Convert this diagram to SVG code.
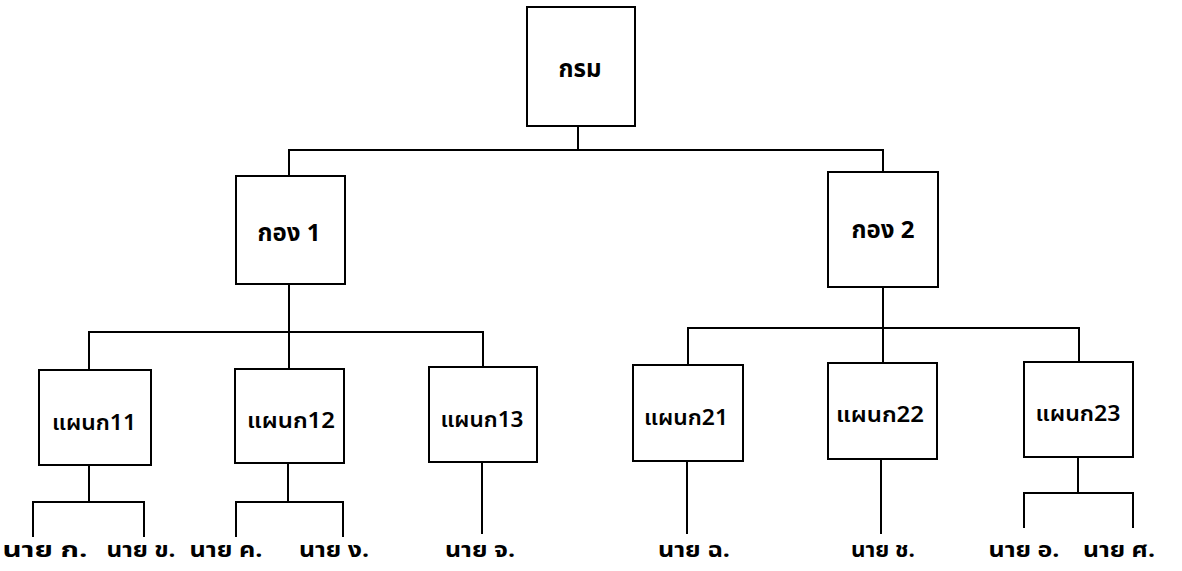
<svg xmlns="http://www.w3.org/2000/svg" width="1182" height="571" viewBox="0 0 1182 571">
  <style>
    .box { fill: #ffffff; stroke: #000000; stroke-width: 2; }
    .wire { fill: none; stroke: #000000; stroke-width: 2; stroke-linecap: square; }
    .lbl { font-family: 'Noto Sans Thai', 'Noto Sans', 'DejaVu Sans', sans-serif; font-weight: bold; fill: #000000; text-anchor: middle; }
    .top { font-size: 24px; }
    .mid { font-size: 24px; }
    .unit { font-size: 22px; font-weight: 600; }
    .person { font-size: 21px; }
  </style>
  <rect width="1182" height="571" fill="#ffffff"/>

  <!-- connectors -->
  <g id="connectors" class="wire">
    <!-- department to divisions -->
    <path d="M578 126 V150 M289 150 H883 M289 150 V176 M883 150 V172"/>
    <!-- division 1 to its sections -->
    <path d="M289 284 V332 M89 332 H483 M89 332 V370 M289 332 V369 M483 332 V367"/>
    <!-- division 2 to its sections -->
    <path d="M883 287 V328 M688 328 H1079 M688 328 V365 M883 328 V363 M1079 328 V362"/>
    <!-- sections to staff -->
    <path d="M89 465 V502 M33 502 H144 M33 502 V536 M144 502 V536"/>
    <path d="M288 463 V502 M236 502 H343 M236 502 V536 M343 502 V536"/>
    <path d="M482 462 V533"/>
    <path d="M687 461 V533"/>
    <path d="M881 459 V533"/>
    <path d="M1078 457 V493 M1024 493 H1133 M1024 493 V527 M1133 493 V527"/>
  </g>

  <!-- department -->
  <g id="krom">
    <rect class="box" x="527" y="7" width="108" height="119"/>
    <text class="lbl top" x="580" y="77">กรม</text>
  </g>

  <!-- divisions -->
  <g id="kong1">
    <rect class="box" x="236" y="176" width="109" height="108"/>
    <text class="lbl mid" x="289" y="241">กอง 1</text>
  </g>
  <g id="kong2">
    <rect class="box" x="828" y="172" width="110" height="115"/>
    <text class="lbl mid" x="883" y="238">กอง 2</text>
  </g>

  <!-- sections -->
  <g id="section11">
    <rect class="box" x="39" y="370" width="112" height="95"/>
    <text class="lbl unit" x="94" y="430" textLength="84" lengthAdjust="spacingAndGlyphs">แผนก11</text>
  </g>
  <g id="section12">
    <rect class="box" x="235" y="369" width="109" height="94"/>
    <text class="lbl unit" x="291" y="428" textLength="88" lengthAdjust="spacingAndGlyphs">แผนก12</text>
  </g>
  <g id="section13">
    <rect class="box" x="429" y="367" width="108" height="95"/>
    <text class="lbl unit" x="482" y="427" textLength="83" lengthAdjust="spacingAndGlyphs">แผนก13</text>
  </g>
  <g id="section21">
    <rect class="box" x="633" y="365" width="110" height="96"/>
    <text class="lbl unit" x="686" y="425" textLength="84" lengthAdjust="spacingAndGlyphs">แผนก21</text>
  </g>
  <g id="section22">
    <rect class="box" x="828" y="363" width="109" height="96"/>
    <text class="lbl unit" x="880" y="422" textLength="88" lengthAdjust="spacingAndGlyphs">แผนก22</text>
  </g>
  <g id="section23">
    <rect class="box" x="1024" y="362" width="109" height="95"/>
    <text class="lbl unit" x="1078" y="421" textLength="85" lengthAdjust="spacingAndGlyphs">แผนก23</text>
  </g>

  <!-- staff -->
  <g id="staff">
    <text class="lbl person" x="45" y="557" textLength="85" lengthAdjust="spacingAndGlyphs">นาย ก.</text>
    <text class="lbl person" x="141" y="557" textLength="69" lengthAdjust="spacingAndGlyphs">นาย ข.</text>
    <text class="lbl person" x="226" y="557" textLength="73" lengthAdjust="spacingAndGlyphs">นาย ค.</text>
    <text class="lbl person" x="334" y="557" textLength="70" lengthAdjust="spacingAndGlyphs">นาย ง.</text>
    <text class="lbl person" x="480" y="557" textLength="70" lengthAdjust="spacingAndGlyphs">นาย จ.</text>
    <text class="lbl person" x="694" y="557" textLength="72" lengthAdjust="spacingAndGlyphs">นาย ฉ.</text>
    <text class="lbl person" x="883" y="557" textLength="64" lengthAdjust="spacingAndGlyphs">นาย ช.</text>
    <text class="lbl person" x="1024" y="557" textLength="71" lengthAdjust="spacingAndGlyphs">นาย อ.</text>
    <text class="lbl person" x="1119" y="557" textLength="72" lengthAdjust="spacingAndGlyphs">นาย ศ.</text>
  </g>
</svg>
